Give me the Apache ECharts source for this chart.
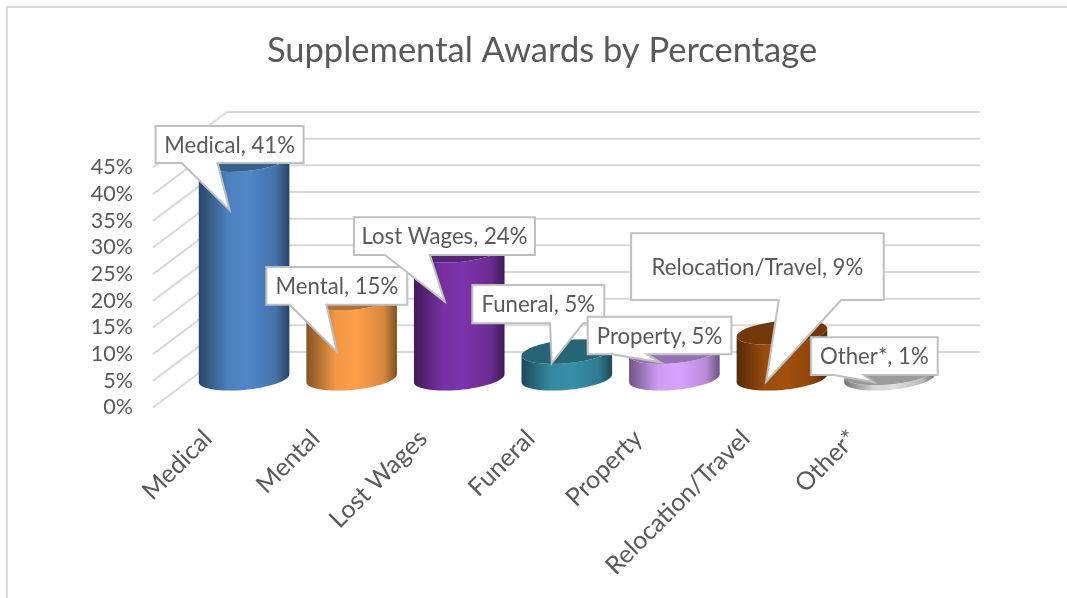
<!DOCTYPE html>
<html><head><meta charset="utf-8">
<style>html,body{margin:0;padding:0;background:#fff}#c{width:1067px;height:598px}</style>
<script src="https://cdn.jsdelivr.net/npm/echarts@6/dist/echarts.min.js"></script>
</head><body><div id="c"></div>
<script>
const categories = ['Medical','Mental','Lost Wages','Funeral','Property','Relocation/Travel','Other*'];
const awardPercent = [41,15,24,5,5,8.6,1];
const axisTicks = [0,5,10,15,20,25,30,35,40,45];
const barColors = ['#5187C8','#FF9F4A','#7D33AC','#378FA9','#D8A3FF','#A3500D','#DEDEDE'];
// callout geometry relative to each bar's top centre: box x,y,w,h, tail base x1,x2, tip x,y
const calloutBoxes = [
 [-88.5,-34,148,37,-62.5,-26.5,-14.5,50],
 [-85.3,-31.6,141,37.7,-62,-25.3,-14.7,53.1],
 [-105.3,-33.3,181,37.7,-74.3,-29.3,-14.3,51.1],
 [-94.5,-66.9,132,38.3,-16.8,16.2,-15.1,11.4],
 [-86.7,-35.2,143.7,37.6,-62.3,-27.3,-14,10.4],
 [-150.8,-99.4,252.6,66.7,-3.2,59.2,-15.8,49],
 [-78.5,-36,126.7,37.7,-55.5,-25.5,-15.5,9]
];
const FONT = 'Lato';
const TEXT = '#595959';
const GRID = '#D9D9D9';
const LABEL_SHIFT = 1, WALL_DX = 74, WALL_DY = -55.5, MID_DX = 37.3-LABEL_SHIFT, MID_DY = -29.2;
const RX = 45.3, RY = 11.6, SHEAR = -0.088;

function shade(hex,k){
  const n=parseInt(hex.slice(1),16);
  const f=c=>Math.round(c*k);
  return 'rgb('+f(n>>16&255)+','+f(n>>8&255)+','+f(n&255)+')';
}
function arc(cx,cy,t0,t1){
  const pts=[],N=40;
  for(let i=0;i<=N;i++){
    const t=t0+(t1-t0)*i/N, dx=RX*Math.cos(t);
    pts.push([cx+dx, cy+RY*Math.sin(t)+SHEAR*dx]);
  }
  return pts;
}
const chart = echarts.init(document.getElementById('c'),null,{renderer:'canvas'});
chart.setOption({
  animation:false,
  backgroundColor:'#fff',
  title:{text:'Supplemental Awards by Percentage',left:537,top:28,textAlign:'center',
    textStyle:{fontFamily:FONT,fontSize:34.5,fontWeight:'normal',color:TEXT}},
  graphic:[
    {type:'polyline',shape:{points:[[7,598],[7,7],[1067,7]]},style:{fill:null,stroke:GRID,lineWidth:2},silent:true}
  ],
  grid:{left:153+LABEL_SHIFT,width:753,top:167.5,height:240},
  xAxis:{type:'category',data:categories,
    axisLine:{show:false},axisTick:{show:false},splitLine:{show:false},
    axisLabel:{rotate:45,interval:0,margin:27,fontFamily:FONT,fontSize:25,color:TEXT}},
  yAxis:{type:'value',min:0,max:45,interval:5,
    axisLine:{show:false},axisTick:{show:false},splitLine:{show:false},
    axisLabel:{formatter:'{value}%',margin:21,padding:[3,0,0,0],fontFamily:FONT,fontSize:21.5,color:TEXT}},
  series:[
    {type:'custom',name:'walls',silent:true,z:1,
     data:axisTicks.map(v=>[0,v]),encode:{x:0,y:1},
     renderItem(params,api){
       const y=api.coord([0,api.value(1)])[1];
       const x0=params.coordSys.x-LABEL_SHIFT;
       return {type:'polyline',shape:{points:[[x0,y],[x0+WALL_DX,y+WALL_DY],[x0+WALL_DX+753,y+WALL_DY]]},
         style:{fill:null,stroke:GRID,lineWidth:2}};
     }},
    {type:'custom',name:'bars',silent:true,z:2,
     data:awardPercent.map((v,i)=>[i,v]),encode:{x:0,y:1},
     renderItem(params,api){
       const i=api.value(0),v=api.value(1);
       const base=api.coord([i,0]),top=api.coord([i,v]);
       const cx=base[0]+MID_DX,by=base[1]+MID_DY,ty=top[1]+MID_DY;
       const col=barColors[params.dataIndex];
       const body=arc(cx,by,0,Math.PI).concat(arc(cx,ty,Math.PI,0));
       return {type:'group',children:[
         {type:'polygon',shape:{points:body},style:{fill:{type:'linear',x:0,y:0,x2:1,y2:0,colorStops:[
           {offset:0,color:shade(col,0.52)},{offset:0.12,color:shade(col,0.68)},
           {offset:0.32,color:shade(col,0.95)},{offset:0.55,color:shade(col,1)},
           {offset:0.85,color:shade(col,0.85)},{offset:1,color:shade(col,0.5)}]}}},
         {type:'polygon',shape:{points:arc(cx,ty,0,Math.PI*2)},style:{fill:shade(col,0.7)}}
       ]};
     }},
    {type:'custom',name:'callouts',silent:true,z:3,
     data:awardPercent.map((v,i)=>[i,v]),encode:{x:0,y:1},
     renderItem(params,api){
       const i=api.value(0),v=api.value(1);
       const top=api.coord([i,v]);
       const ax=top[0]+MID_DX,ay=top[1]+MID_DY+0.3;
       const [bx,by,bw,bh,t1,t2,tx,ty]=calloutBoxes[params.dataIndex];
       const L=ax+bx,T=ay+by,R=L+bw,B=T+bh;
       return {type:'group',children:[
         {type:'polygon',shape:{points:[[L,T],[R,T],[R,B],[ax+t2,B],[ax+tx,ay+ty],[ax+t1,B],[L,B]]},
          style:{fill:'#fff',stroke:'#BFBFBF',lineWidth:2}},
         {type:'text',style:{x:(L+R)/2,y:(T+B)/2+1,text:categories[params.dataIndex]+', '+Math.round(v)+'%',
           align:'center',verticalAlign:'middle',fontFamily:FONT,fontSize:22.2,fill:TEXT}}
       ]};
     }}
  ]
});
</script></body></html>
